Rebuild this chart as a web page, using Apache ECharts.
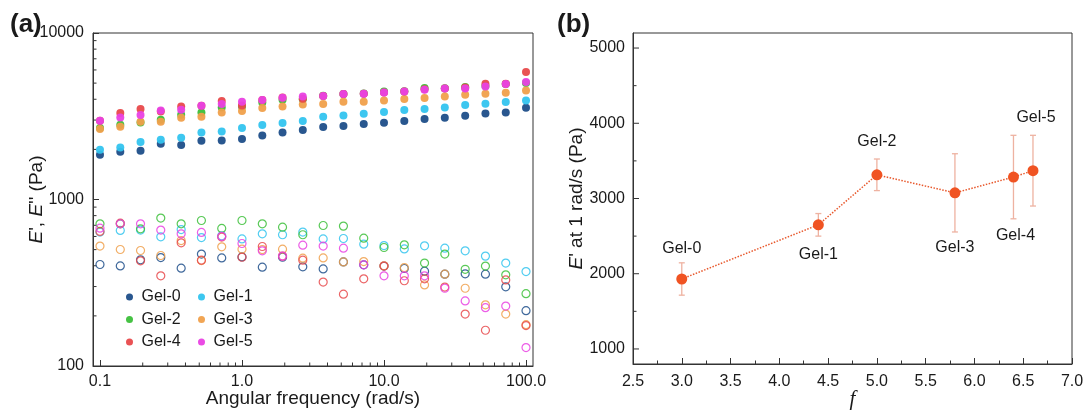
<!DOCTYPE html>
<html>
<head>
<meta charset="utf-8">
<script src="https://cdn.jsdelivr.net/npm/echarts@6/dist/echarts.min.js"></script>
<style>
  html, body { margin: 0; padding: 0; background: #fff; }
  #chart { width: 1084px; height: 410px; }
</style>
</head>
<body>
<div id="chart"></div>
<script>
// ---------- Data: panel (a) ----------
const freq = [0.1, 0.139, 0.193, 0.268, 0.373, 0.518, 0.72, 1.0, 1.39, 1.93, 2.68,
              3.73, 5.18, 7.2, 10, 13.9, 19.3, 26.8, 37.3, 51.8, 72, 100];
const gelNames = ['Gel-0', 'Gel-1', 'Gel-2', 'Gel-3', 'Gel-4', 'Gel-5'];
// storage modulus E' (filled)
const gel0S = [1856,1935,1962,2162,2122,2253,2263,2306,2426,2528,2612,2723,2761,2838,2891,2958,3041,3097,3184,3288,3334,3557];
const gel1S = [1989,2054,2212,2285,2349,2528,2564,2685,2799,2877,2958,3141,3199,3273,3350,3444,3492,3573,3690,3760,3848,3937];
const gel2S = [2685,2812,2900,3013,3228,3334,3573,3623,3830,3975,4000,4200,4300,4330,4457,4470,4668,4650,4733,4800,4935,5000];
const gel3S = [2648,2735,2931,2931,3097,3141,3334,3397,3540,3623,3725,3742,3866,3866,3937,4010,4066,4160,4257,4316,4376,4520];
const gel4S = [2972,3304,3492,3381,3623,3657,3900,3673,3955,4103,4029,4179,4296,4316,4396,4457,4600,4647,4700,4958,4958,5825];
const gel5S = [2972,3112,3214,3428,3459,3657,3742,3866,3955,4085,4160,4179,4296,4316,4396,4457,4562,4647,4647,4777,4935,5074];
// loss modulus E'' (hollow)
const gel0L = [407,399,434,448,387,470,446,452,392,450,394,383,422,405,398,385,371,356,358,356,299,215];
const gel1L = [637,652,655,597,660,591,605,580,622,614,637,580,583,539,529,505,527,510,492,457,415,369];
const gel2L = [714,714,667,773,714,748,670,748,714,682,614,698,692,586,515,534,415,470,381,398,353,272];
const gel3L = [525,501,494,461,567,430,520,503,500,503,444,446,422,424,400,390,307,356,293,233,205,177];
const gel4L = [643,721,428,348,549,432,595,450,522,457,432,319,270,334,398,325,334,298,205,164,329,175];
const gel5L = [673,714,714,655,622,634,600,544,492,457,532,525,510,405,348,348,348,293,246,224,229,129];
const storageSets = [gel0S, gel1S, gel2S, gel3S, gel4S, gel5S];
const lossSets = [gel0L, gel1L, gel2L, gel3L, gel4L, gel5L];
// axis ticks (a)
const xMinA = 0.0893, xMaxA = 112, yMinA = 100, yMaxA = 10000;
const xMinorTicks = [0.2,0.3,0.4,0.5,0.6,0.7,0.8,0.9,2,3,4,5,6,7,8,9,20,30,40,50,60,70,80,90];
const yMinorTicks = [200,300,400,500,600,700,800,900,2000,3000,4000,5000,6000,7000,8000,9000];

// ---------- Data: panel (b) ----------
const fValues = [3.0, 4.4, 5.0, 5.8, 6.4, 6.6];
const modAt1 = [1930, 2650, 3315, 3075, 3285, 3370];
const modErr = [215, 150, 210, 520, 555, 470];
const labelPos = ['top', 'bottom', 'top', 'bottom', 'bottom', 'top'];
const labelDist = [17, 16, 20, 41, 45, 40];
const labelDx = [0, 0, 0, 0, 2, 3];
const yTicksB = [1000, 2000, 3000, 4000, 5000];
const yMinorB = [1500, 2500, 3500, 4500];

const colors = ['#1d4e89', '#33c4ef', '#3cbf3a', '#f0a04b', '#e8494b', '#e941e3'];
const FONT = '"Liberation Sans", Arial, Helvetica, sans-serif';
const TXT = '#1a1a1a';

const chart = echarts.init(document.getElementById('chart'), null, { renderer: 'canvas' });

const series = [];
lossSets.forEach((arr, i) => {
  series.push({
    type: 'scatter', name: gelNames[i] + ' loss', xAxisIndex: 0, yAxisIndex: 0,
    symbol: 'circle', symbolSize: 8, silent: true,
    itemStyle: { color: 'rgba(255,255,255,0)', borderColor: colors[i], borderWidth: 1.2, opacity: 0.85 },
    data: freq.map((f, k) => [f, arr[k]])
  });
});
storageSets.forEach((arr, i) => {
  series.push({
    type: 'scatter', name: gelNames[i], xAxisIndex: 0, yAxisIndex: 0,
    symbol: 'circle', symbolSize: 8, silent: true,
    itemStyle: { color: colors[i], opacity: 0.95 },
    data: freq.map((f, k) => [f, arr[k]])
  });
});
function tickSeries(xi, yi, pts, dx, dy) {
  return {
    type: 'custom', xAxisIndex: xi, yAxisIndex: yi, silent: true, clip: false,
    data: pts,
    renderItem: (params, api) => {
      const p = api.coord([api.value(0), api.value(1)]);
      return { type: 'line', shape: { x1: p[0], y1: p[1], x2: p[0] + dx, y2: p[1] + dy }, style: { stroke: '#333', lineWidth: 1 } };
    }
  };
}
// log minor ticks (a)
series.push(tickSeries(0, 0, xMinorTicks.map(v => [v, yMinA]), 0, -3.5));
series.push(tickSeries(0, 0, yMinorTicks.map(v => [xMinA, v]), 3.5, 0));
// y ticks (b): major and minor
series.push(tickSeries(1, 1, yTicksB.map(v => [2.5, v]), 6, 0));
series.push(tickSeries(1, 1, yMinorB.map(v => [2.5, v]), 3.5, 0));
// error bars (b)
series.push({
  type: 'custom', xAxisIndex: 1, yAxisIndex: 1, silent: true, z: 1,
  data: fValues.map((f, i) => [f, modAt1[i] - modErr[i], modAt1[i] + modErr[i]]),
  renderItem: (params, api) => {
    const lo = api.coord([api.value(0), api.value(1)]);
    const hi = api.coord([api.value(0), api.value(2)]);
    const st = { stroke: '#eeb2a1', lineWidth: 1.3 };
    const w = 3;
    return { type: 'group', children: [
      { type: 'line', shape: { x1: lo[0], y1: lo[1], x2: hi[0], y2: hi[1] }, style: st },
      { type: 'line', shape: { x1: lo[0] - w, y1: lo[1], x2: lo[0] + w, y2: lo[1] }, style: st },
      { type: 'line', shape: { x1: hi[0] - w, y1: hi[1], x2: hi[0] + w, y2: hi[1] }, style: st }
    ]};
  }
});
// main line (b)
series.push({
  type: 'line', name: 'E1', xAxisIndex: 1, yAxisIndex: 1, z: 3, silent: true,
  symbol: 'circle', symbolSize: 11,
  itemStyle: { color: '#f05322' },
  lineStyle: { color: '#e8582c', type: 'dotted', width: 1.5 },
  label: { show: true, fontFamily: FONT, fontSize: 16, color: TXT, formatter: (p) => gelNames[p.dataIndex] },
  data: fValues.map((f, i) => ({
    value: [f, modAt1[i]],
    label: { position: labelPos[i], distance: labelDist[i], offset: [labelDx[i], 0] }
  }))
});

const legendCommon = {
  orient: 'vertical', itemWidth: 14, itemHeight: 7, itemGap: 6.5, icon: 'circle',
  textStyle: { fontFamily: FONT, fontSize: 16, color: TXT }, selectedMode: false
};

const axisLab = { fontFamily: FONT, fontSize: 16, color: TXT };
const nameStyle = { fontFamily: FONT, fontSize: 19, color: TXT };

const option = {
  animation: false,
  backgroundColor: '#fff',
  title: [
    { text: '(a)', left: 5, top: 7, textStyle: { fontFamily: FONT, fontSize: 26, fontWeight: 'bold', color: TXT } },
    { text: '(b)', left: 552, top: 7, textStyle: { fontFamily: FONT, fontSize: 26, fontWeight: 'bold', color: TXT } }
  ],
  legend: [
    Object.assign({ left: 121, top: 284, data: ['Gel-0', 'Gel-2', 'Gel-4'] }, legendCommon),
    Object.assign({ left: 193, top: 284, data: ['Gel-1', 'Gel-3', 'Gel-5'] }, legendCommon)
  ],
  grid: [
    { left: 93, top: 33, width: 440, height: 333, show: true, borderColor: '#333', borderWidth: 1,
      backgroundColor: 'transparent', outerBoundsMode: 'none', containLabel: false },
    { left: 633, top: 33, width: 439, height: 331, show: true, borderColor: '#333', borderWidth: 1,
      backgroundColor: 'transparent', outerBoundsMode: 'none', containLabel: false }
  ],
  xAxis: [
    {
      type: 'log', logBase: 10, gridIndex: 0, min: xMinA, max: xMaxA,
      name: 'Angular frequency (rad/s)', nameLocation: 'middle', nameGap: 23, nameMoveOverlap: false, nameTextStyle: nameStyle,
      axisLine: { lineStyle: { color: '#333' } },
      axisTick: { inside: true, length: 6, lineStyle: { color: '#333' } },
      splitLine: { show: false },
      axisLabel: Object.assign({ margin: 8, showMinLabel: false, showMaxLabel: false,
        formatter: (v) => { const l = Math.log10(v); return Math.abs(l - Math.round(l)) < 1e-6 ? Number(v).toFixed(1) : ''; } }, axisLab)
    },
    {
      type: 'value', gridIndex: 1, min: 2.5, max: 7.0, interval: 0.5,
      name: 'f', nameLocation: 'middle', nameGap: 25, nameMoveOverlap: false,
      nameTextStyle: { fontFamily: '"Liberation Serif", "DejaVu Serif", serif', fontStyle: 'italic', fontSize: 21, color: TXT },
      axisLine: { lineStyle: { color: '#333' } },
      axisTick: { inside: true, length: 6, lineStyle: { color: '#333' } },
      minorTick: { show: true, splitNumber: 2, length: 3.5, lineStyle: { color: '#333' } },
      splitLine: { show: false },
      axisLabel: Object.assign({ margin: 10, formatter: (v) => Number(v).toFixed(1) }, axisLab)
    }
  ],
  yAxis: [
    {
      type: 'log', logBase: 10, gridIndex: 0, min: yMinA, max: yMaxA,
      name: "{i|E}', {i|E}'' (Pa)", nameLocation: 'middle', nameGap: 47, nameMoveOverlap: false,
      nameTextStyle: Object.assign({ rich: { i: { fontFamily: FONT, fontSize: 19, fontStyle: 'italic', color: TXT } } }, nameStyle),
      axisLine: { lineStyle: { color: '#333' } },
      axisTick: { inside: true, length: 6, lineStyle: { color: '#333' } },
      splitLine: { show: false },
      axisLabel: Object.assign({ margin: 9, formatter: (v) => String(Math.round(v)) }, axisLab)
    },
    {
      type: 'value', gridIndex: 1, min: 800, max: 5200, interval: 200,
      name: "{i|E}' at 1 rad/s (Pa)", nameLocation: 'middle', nameGap: 47, nameMoveOverlap: false,
      nameTextStyle: Object.assign({ rich: { i: { fontFamily: FONT, fontSize: 19, fontStyle: 'italic', color: TXT } } }, nameStyle),
      axisLine: { lineStyle: { color: '#333' } },
      axisTick: { show: false },
      splitLine: { show: false },
      axisLabel: Object.assign({ margin: 8, showMinLabel: false, showMaxLabel: false,
        formatter: (v) => (Math.round(v) % 1000 === 0 ? String(Math.round(v)) : '') }, axisLab)
    }
  ],
  series: series
};
chart.setOption(option);
</script>
</body>
</html>
